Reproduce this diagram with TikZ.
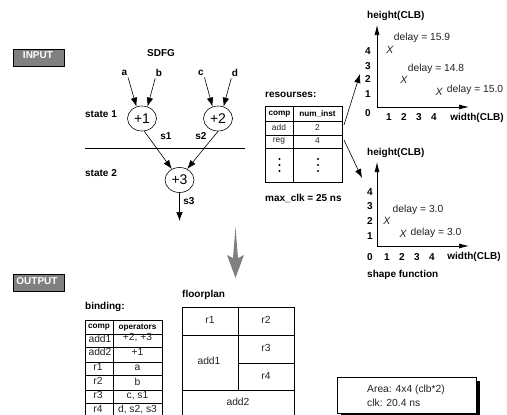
\documentclass[tikz,border=0pt]{standalone}
\usepackage{fontspec}
\setmainfont{Liberation Sans}
\usetikzlibrary{arrows.meta,shapes.geometric}
\definecolor{boxgray}{HTML}{808080}
\definecolor{txt}{HTML}{222222}
\tikzset{
  x=1pt,y=-1pt,
  lab/.style={font=\fontsize{10}{11}\selectfont\bfseries,text=black,inner sep=0pt},
  lableft/.style={lab,anchor=west},
  plain/.style={font=\fontsize{10.3}{11}\selectfont,text=txt,inner sep=0pt},
  small/.style={font=\fontsize{8.4}{9}\selectfont,text=txt,inner sep=0pt},
  smallb/.style={font=\fontsize{8.2}{9}\selectfont\bfseries,text=black,inner sep=0pt},
  tag/.style={draw=black,line width=0.6pt,fill=boxgray,minimum width=51pt,minimum height=17pt,inner sep=0pt},
  tagtext/.style={lab,text=white},
  opnode/.style={draw=black,line width=0.6pt,ellipse,minimum width=29pt,minimum height=25pt,inner sep=0pt,font=\fontsize{14}{15}\selectfont},
  arr/.style={line width=0.6pt,-{Latex[length=9pt,width=6.5pt]}},
  axis/.style={line width=0.7pt,-{Latex[length=10pt,width=5pt]}},
  tb/.style={line width=0.6pt},
  tbh/.style={line width=0.9pt},
  xm/.style={font=\fontsize{10.5}{11}\selectfont\itshape,text=txt,inner sep=0pt},
  dotm/.style={circle,fill=black,inner sep=0pt,minimum size=2.4pt},
}
\begin{document}
\begin{tikzpicture}
\useasboundingbox (0,0) rectangle (507,415);
% tags
\node[tag] (input) at (38.5,57.5) {};
\node[tagtext] (inputt) at (38,55) {INPUT};
\node[tag] (output) at (38.5,282.5) {};
\node[tagtext] (outputt) at (37,281.5) {OUTPUT};
% SDFG
\node[lab] (sdfg) at (161,53.5) {SDFG};
\node[lab] (a) at (124.5,72.5) {a};
\node[lab] (b) at (159,72.5) {b};
\node[lab] (c) at (201,72.5) {c};
\node[lab] (d) at (235,72.5) {d};
\node[opnode] (p1) at (142,118.5) {+1};
\node[opnode] (p2) at (218,118.5) {+2};
\node[opnode] (p3) at (179.5,180) {+3};
\node[lab] (st1) at (101,114.5) {state 1};
\node[lab] (st2) at (101,173.5) {state 2};
\node[lab] (s1) at (166,136.5) {s1};
\node[lab] (s2) at (201,136.5) {s2};
\node[lab] (s3) at (189,201.5) {s3};
\coordinate (sL) at (85,148);
\coordinate (sR) at (245,148);
\draw[line width=0.6pt] (sL) -- (sR);
\draw[arr,shorten <=2pt] (a.south east) -- (p1.115);
\draw[arr,shorten <=2pt] (b.south west) -- (p1.65);
\draw[arr,shorten <=2pt] (c.south east) -- (p2.115);
\draw[arr,shorten <=2pt] (d.south west) -- (p2.65);
\draw[arr] (p1.-80) -- (p3.125);
\draw[arr] (p2.-90) -- (p3.55);
\coordinate (s3end) at (179.5,221);
\draw[arr] (p3.south) -- (s3end);
% resources
\node[lableft] (res) at (265,95) {resourses:};
\node[lableft] (mclk) at (265,198.5) {max\_clk = 25 ns};
\draw[tb] (265,106) rectangle (342,182);
\draw[tb] (293,106) -- (293,182);
\draw[tbh] (265,121) -- (342,121);
\draw[tb] (265,135) -- (342,135);
\draw[tbh] (265,148) -- (342,148);
\node[smallb] (rc) at (279.5,114) {comp};
\node[smallb] (rn) at (317.5,114) {num\_inst};
\node[small] (r1) at (279,127.5) {add};
\node[small] (r2) at (317.5,127.5) {2};
\node[small] (r3) at (279,141) {reg};
\node[small] (r4) at (317.5,141) {4};
\foreach \yy in {159,165,171} {
  \node[dotm] at (279.5,\yy) {};
  \node[dotm] at (318,\yy) {};
}
\coordinate (t1) at (344,125);
\coordinate (t2) at (344,140);
\coordinate (h1) at (360,74);
\coordinate (h2) at (362,178);
\draw[arr] (t1) -- (h1);
\draw[arr] (t2) -- (h2);
% upper axes
\coordinate (o1) at (377,107);
\coordinate (y1) at (377,25);
\coordinate (x1) at (469,107);
\draw[axis] (o1) -- (y1);
\draw[axis] (o1) -- (x1);
\node[lableft] (hh1) at (367,16) {height(CLB)};
\node[lab] at (368,51) {4};
\node[lab] at (368,66) {3};
\node[lab] at (368,79.5) {2};
\node[lab] at (368,94.5) {1};
\node[lab] at (368,113.5) {0};
\node[lab] at (389,117.5) {1};
\node[lab] at (404,117.5) {2};
\node[lab] at (419,117.5) {3};
\node[lab] at (434,117.5) {4};
\node[lab] (wd1) at (477,117.5) {width(CLB)};
\node[xm] at (390,50) {X};
\node[xm] at (404,80) {X};
\node[xm] at (439,91.5) {X};
\node[plain] at (422,37.5) {delay = 15.9};
\node[plain] at (436,68.5) {delay = 14.8};
\node[plain] at (475,89.5) {delay = 15.0};
% lower axes
\coordinate (o2) at (377,246);
\coordinate (y2) at (377,162);
\coordinate (x2) at (469,246);
\draw[axis] (o2) -- (y2);
\draw[axis] (o2) -- (x2);
\node[lableft] (hh2) at (367,153) {height(CLB)};
\node[lab] at (370,192) {4};
\node[lab] at (370,206.5) {3};
\node[lab] at (370,221) {2};
\node[lab] at (370,236) {1};
\node[lab] at (370,257) {0};
\node[lab] at (387,257) {1};
\node[lab] at (402,257) {2};
\node[lab] at (417,257) {3};
\node[lab] at (432,257) {4};
\node[lab] (wd2) at (474,257) {width(CLB)};
\node[lableft] (shp) at (367,274.5) {shape function};
\node[xm] at (387,221) {X};
\node[xm] at (403,234) {X};
\node[plain] at (418,209.5) {delay = 3.0};
\node[plain] at (436,232.5) {delay = 3.0};
% big arrow
\fill[boxgray] (235.5,227) -- (238,258) -- (244,255) -- (235.5,278) -- (227,255) -- (233,258) -- cycle;
% binding
\node[lableft] (bind) at (85,307) {binding:};
\draw[tb] (85,320) -- (162,320);
\draw[tb] (85,320) -- (85,415);
\draw[tb] (113,320) -- (113,415);
\draw[tb] (162,320) -- (162,415);
\foreach \yy in {334,347,362,375,390,403,415} \draw[tbh] (85,\yy) -- (162,\yy);
\node[smallb] at (99,327.5) {comp};
\node[smallb] at (137.5,327.5) {operators};
\node[plain] at (100,338.5) {add1};
\node[plain] at (137.5,337.5) {+2, +3};
\node[plain] at (100,352) {add2};
\node[plain] at (137.5,351.5) {+1};
\node[plain] at (98,366.5) {r1};
\node[plain] at (137.5,367.5) {a};
\node[plain] at (98,380.5) {r2};
\node[plain] at (137.5,381.5) {b};
\node[plain] at (98,394.5) {r3};
\node[plain] at (137.5,395.5) {c, s1};
\node[plain] at (98,408.5) {r4};
\node[plain] at (137.5,409.5) {d, s2, s3};
% floorplan
\node[lableft] (fp) at (182,294.5) {floorplan};
\draw[tb] (182,307) rectangle (294,416);
\draw[tbh] (238,307) -- (238,390);
\draw[tbh] (182,335) -- (294,335);
\draw[tb] (238,363) -- (294,363);
\draw[tb] (182,390) -- (294,390);
\node[plain] at (210,320) {r1};
\node[plain] at (209,361) {add1};
\node[plain] at (238,402) {add2};
\node[plain] at (266,319.5) {r2};
\node[plain] at (266,347.5) {r3};
\node[plain] at (266,375.5) {r4};
% result box
\fill[black] (341,381) rectangle (480,415);
\draw[line width=0.6pt,fill=white] (337,377) rectangle (476,413);
\node[plain,anchor=west] (ar) at (367,390) {Area: 4x4 (clb*2)};
\node[plain,anchor=west] (cl) at (367,403) {clk: 20.4 ns};
\end{tikzpicture}
\end{document}
